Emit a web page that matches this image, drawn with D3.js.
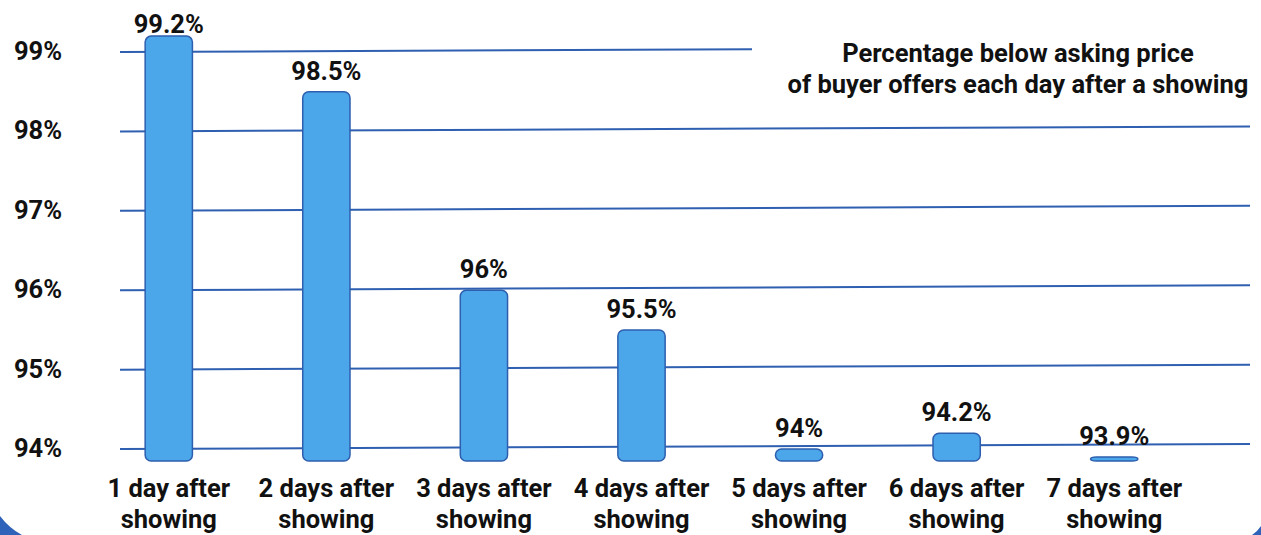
<!DOCTYPE html>
<html>
<head>
<meta charset="utf-8">
<script src="https://cdn.jsdelivr.net/npm/d3@7"></script>
<style>
  html, body { margin: 0; padding: 0; background: #ffffff; }
  svg { display: block; }
  text { font-family: Roboto, "Noto Sans", sans-serif; font-weight: 700; fill: #111111; }
</style>
</head>
<body>
<svg id="chart" width="1261" height="535"></svg>
<script>
// Offers relative to asking price, by day after a showing
const categories = [
  "1 day after showing",
  "2 days after showing",
  "3 days after showing",
  "4 days after showing",
  "5 days after showing",
  "6 days after showing",
  "7 days after showing"
];
const values = [99.2, 98.5, 96, 95.5, 94, 94.2, 93.9];
const tickValues = [94, 95, 96, 97, 98, 99];
const titleLines = [
  "Percentage below asking price",
  "of buyer offers each day after a showing"
];

const svg = d3.select("#chart");
const W = 1261, H = 535;
const baseValue = 93.85;
const fontSize = "25.5px";

const x = d3.scaleBand()
  .domain(categories)
  .range([90, 1193])
  .paddingInner(0.7)
  .paddingOuter(0.35);

const y = d3.scaleLinear()
  .domain([baseValue, 99])
  .range([461, 52]);

const lineColor = "#2f5fb0";
const gridLeft = 120, gridRight = 1250;
const tilt = 5; // gridlines rise slightly toward the right

// slide frame corners
svg.append("path")
  .attr("d", `M0,516 Q9,528 22,${H} L0,${H} Z`)
  .attr("fill", "#2f63b9");
svg.append("path")
  .attr("d", `M${W},526 Q${W - 4},532 ${W - 9},${H} L${W},${H} Z`)
  .attr("fill", "#2f63b9");

// gridlines
svg.append("g").selectAll("line")
  .data(tickValues)
  .join("line")
  .attr("x1", gridLeft)
  .attr("x2", d => d === 99 ? 752 : gridRight)
  .attr("y1", d => y(d))
  .attr("y2", d => {
    const x2 = d === 99 ? 752 : gridRight;
    return y(d) - tilt * (x2 - gridLeft) / (gridRight - gridLeft);
  })
  .attr("stroke", lineColor)
  .attr("stroke-width", 2);

// y tick labels
svg.append("g").selectAll("text")
  .data(tickValues)
  .join("text")
  .attr("x", 62)
  .attr("y", d => y(d) - 1)
  .attr("dy", "0.35em")
  .attr("text-anchor", "end")
  .style("font-size", fontSize)
  .text(d => `${d}%`);

// bars
svg.append("g").selectAll("rect")
  .data(values)
  .join("rect")
  .attr("x", (d, i) => x(categories[i]))
  .attr("y", d => y(d))
  .attr("width", x.bandwidth())
  .attr("height", d => y(baseValue) - y(d))
  .attr("rx", 6)
  .attr("fill", "#4ca6ea")
  .attr("stroke", "#2d5fae")
  .attr("stroke-width", 1.5);

// value labels (kept clear of the top edge)
svg.append("g").selectAll("text")
  .data(values)
  .join("text")
  .attr("x", (d, i) => x(categories[i]) + x.bandwidth() / 2)
  .attr("y", d => Math.max(y(d) - 12, 33))
  .attr("text-anchor", "middle")
  .style("font-size", fontSize)
  .text(d => `${d}%`);

// category labels, split into two lines
const catG = svg.append("g").selectAll("text")
  .data(categories)
  .join("text")
  .attr("x", d => x(d) + x.bandwidth() / 2)
  .attr("y", 497)
  .attr("text-anchor", "middle")
  .style("font-size", fontSize);
catG.each(function (d) {
  const cut = d.lastIndexOf(" ");
  const t = d3.select(this);
  const cx = x(d) + x.bandwidth() / 2;
  t.append("tspan").attr("x", cx).text(d.slice(0, cut));
  t.append("tspan").attr("x", cx).attr("dy", 31).text(d.slice(cut + 1));
});

// title
svg.append("text")
  .attr("x", 1018)
  .attr("y", 62)
  .attr("text-anchor", "middle")
  .style("font-size", fontSize)
  .selectAll("tspan")
  .data(titleLines)
  .join("tspan")
  .attr("x", 1018)
  .attr("dy", (d, i) => i === 0 ? 0 : 31)
  .text(d => d);
</script>
</body>
</html>
